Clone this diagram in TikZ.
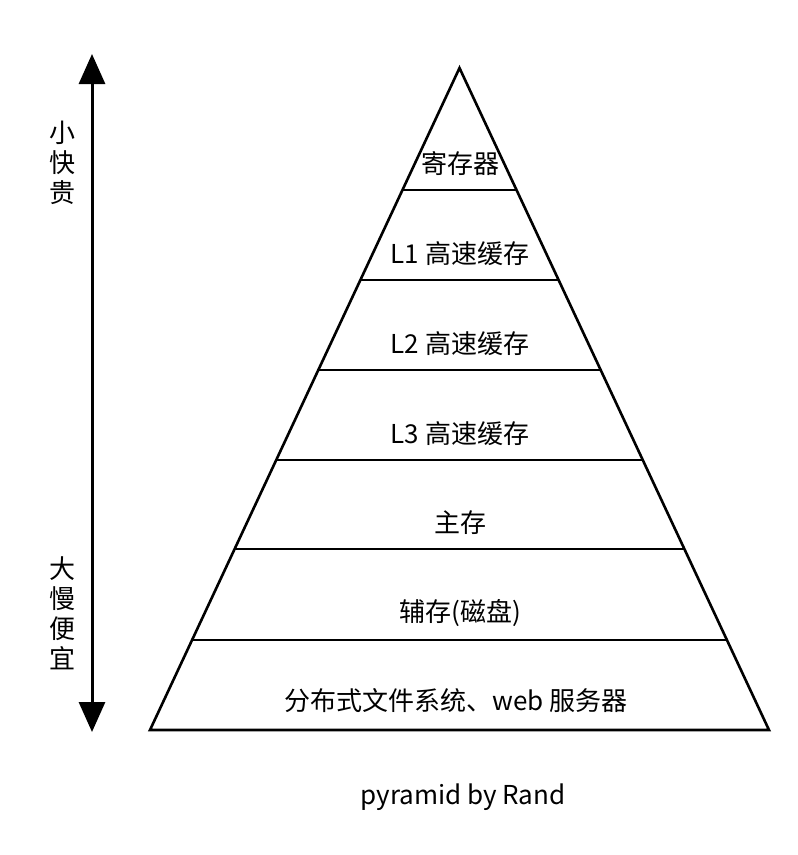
\documentclass[tikz,border=0pt]{standalone}
\usepackage{fontspec}
\setmainfont{Noto Sans CJK SC}
\usetikzlibrary{arrows.meta}
\begin{document}
\begin{tikzpicture}[x=1pt,y=-1pt,
  lbl/.style={font=\fontsize{26}{30}\selectfont, inner sep=0pt, anchor=center},
  side/.style={font=\fontsize{26}{30}\selectfont, inner sep=0pt, align=center},
  edge/.style={line width=2.6pt, line join=miter},
  tier/.style={line width=2.6pt}]
\useasboundingbox[fill=white] (0,0) rectangle (798,855);
% pyramid outline
\coordinate (apex) at (459.5,68);
\coordinate (bl) at (150,730);
\coordinate (br) at (769,730);
\draw[edge] (apex) -- (br) -- (bl) -- cycle;
% tier lines
\foreach \yy/\nm in {190/a,280/b,370/c,460/d,549/e,640/f}{
  \pgfmathsetmacro{\hw}{(\yy-68)*0.4675}
  \coordinate (\nm l) at ({459.5-\hw},\yy);
  \coordinate (\nm r) at ({459.5+\hw},\yy);
  \draw[tier] (\nm l) -- (\nm r);
}
% labels
\node[lbl] (t1) at (460,164) {寄存器};
\node[lbl] (t2) at (460,254) {L1 高速缓存};
\node[lbl] (t3) at (460,344) {L2 高速缓存};
\node[lbl] (t4) at (460,434) {L3 高速缓存};
\node[lbl] (t5) at (460,523) {主存};
\node[lbl] (t6) at (460,613) {辅存(磁盘)};
\node[lbl] (t7) at (456,701) {分布式文件系统、web 服务器};
\node[lbl] (cap) at (463,797) {pyramid by Rand};
% side arrow
\coordinate (atop) at (92,54);
\coordinate (abot) at (92,732);
\draw[line width=3pt, {Triangle[width=26pt,length=30pt]}-{Triangle[width=26pt,length=30pt]}] (atop) -- (abot);
\node[side] (s1) at (62,163) {小\\快\\贵};
\node[side] (s2) at (62,613) {大\\慢\\便\\宜};
\end{tikzpicture}
\end{document}
